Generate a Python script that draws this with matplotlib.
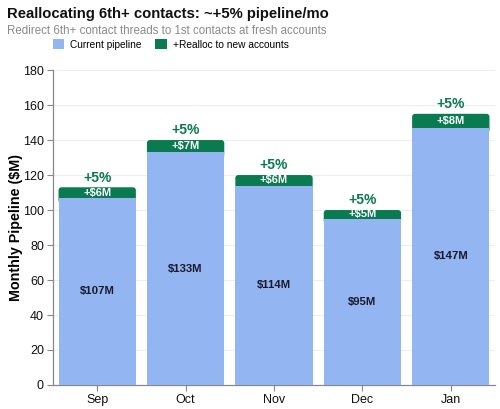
import matplotlib
matplotlib.use("Agg")
import matplotlib.pyplot as plt
from matplotlib.patches import FancyBboxPatch, Patch

plt.rcParams['font.family'] = ['Liberation Sans', 'DejaVu Sans']

months = ["Sep", "Oct", "Nov", "Dec", "Jan"]
current = [107, 133, 114, 95, 147]
realloc = [6, 7, 6, 5, 8]
pct_labels = ["+5%", "+5%", "+5%", "+5%", "+5%"]
yticks = [0, 20, 40, 60, 80, 100, 120, 140, 160, 180]

blue = "#93b5f1"
green = "#0a7a50"
grid_c = "#eeeeee"
axis_c = "#888888"

fig = plt.figure(figsize=(5.0, 4.09), dpi=100)
ax = fig.add_axes([0.106, 0.0587, 0.884, 0.770])

width = 0.875
x = list(range(len(months)))
ax.set_xlim(-0.5, len(months) - 0.5)
ax.set_ylim(0, 180)

fig.canvas.draw()
bb = ax.get_window_extent()
px_per_x = bb.width / (len(months))
px_per_y = bb.height / 180.0
aspect = px_per_x / px_per_y
r = 3.0 / px_per_x

for i in x:
    c = current[i]
    t = c + realloc[i]
    gp = FancyBboxPatch((i - width / 2, c - 3), width, t - c + 3,
                        boxstyle=f"round,pad=0,rounding_size={r}",
                        mutation_aspect=aspect, facecolor=green,
                        edgecolor="none", zorder=2)
    ax.add_patch(gp)
ax.bar(x, current, width=width, color=blue, zorder=3)

for i in x:
    c = current[i]
    t = c + realloc[i]
    ax.text(i, c / 2, f"${c}M", ha="center", va="center", fontsize=8.2,
            fontweight="bold", color="#1a1a2e", zorder=4)
    ax.text(i, c + realloc[i] / 2, f"+${realloc[i]}M", ha="center", va="center",
            fontsize=8, fontweight="bold", color="white", zorder=4)
    ax.text(i, t + 1.5, pct_labels[i], ha="center", va="bottom", fontsize=10,
            fontweight="bold", color=green, zorder=4)

ax.set_yticks(yticks)
ax.set_xticks(x)
ax.set_xticklabels(months)
ax.tick_params(axis="both", labelsize=9, color=axis_c, length=4, width=0.8,
               labelcolor="#111111", pad=2.5)
ax.yaxis.grid(True, color=grid_c, linewidth=0.8, zorder=0)
ax.set_axisbelow(True)
for s in ["top", "right"]:
    ax.spines[s].set_visible(False)
for s in ["left", "bottom"]:
    ax.spines[s].set_color(axis_c)
    ax.spines[s].set_linewidth(0.9)
ax.set_ylabel("Monthly Pipeline ($M)", fontsize=10.3, fontweight="bold")
ax.yaxis.set_label_coords(-0.068, 0.5)

fig.text(0.014, 0.966, "Reallocating 6th+ contacts: ~+5% pipeline/mo",
         fontsize=10.7, fontweight="bold", ha="left", va="center", color="#111111")
fig.text(0.014, 0.923, "Redirect 6th+ contact threads to 1st contacts at fresh accounts",
         fontsize=8.3, ha="left", va="center", color="#8a8a8a")

handles = [Patch(facecolor=blue, edgecolor="none", label="Current pipeline"),
           Patch(facecolor=green, edgecolor="none", label="+Realloc to new accounts")]
fig.legend(handles=handles, loc="center left", bbox_to_anchor=(0.105, 0.891),
           ncol=2, frameon=False, fontsize=7.3, handlelength=1.1, handleheight=1.1,
           handletextpad=0.6, columnspacing=1.4, borderaxespad=0, borderpad=0)

fig.savefig("out.png", dpi=100)
